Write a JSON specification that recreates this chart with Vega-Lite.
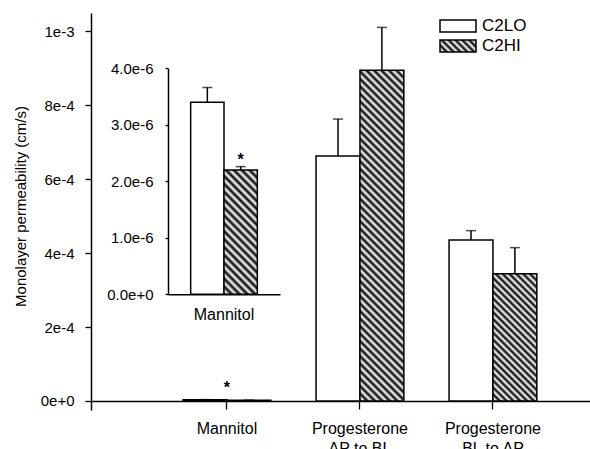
{
  "$schema": "https://vega.github.io/schema/vega-lite/v6.json",
  "width": 499,
  "height": 397,
  "autosize": {"type": "none"},
  "padding": {"left": 91, "top": 13, "right": 0, "bottom": 39},
  "background": "white",
  "config": {
    "view": {"stroke": null},
    "font": "Liberation Sans",
    "axis": {"domainColor": "black", "tickColor": "black", "labelColor": "black", "titleColor": "black", "grid": false, "domainWidth": 1.5, "tickWidth": 1.3, "labelFontWeight": "normal"},
    "legend": {"labelColor": "black"}
  },
  "datasets": {
    "perm": [
      {"group": "Mannitol", "series": "C2LO", "value": 0.0000034, "upper": 0.00000366, "sig": ""},
      {"group": "Mannitol", "series": "C2HI", "value": 0.0000022, "upper": 0.00000226, "sig": "*"},
      {"group": "Progesterone AP to BL", "series": "C2LO", "value": 0.000663, "upper": 0.000763, "sig": ""},
      {"group": "Progesterone AP to BL", "series": "C2HI", "value": 0.000895, "upper": 0.001011, "sig": ""},
      {"group": "Progesterone BL to AP", "series": "C2LO", "value": 0.000436, "upper": 0.000461, "sig": ""},
      {"group": "Progesterone BL to AP", "series": "C2HI", "value": 0.000344, "upper": 0.000415, "sig": ""}
    ]
  },
  "layer": [
    {
      "data": {"name": "perm"},
      "encoding": {
        "x": {
          "field": "group", "type": "nominal",
          "sort": ["Mannitol", "Progesterone AP to BL", "Progesterone BL to AP"],
          "scale": {"paddingInner": 0.34, "paddingOuter": 0.546, "align": 0.634},
          "axis": {"title": null, "orient": "bottom", "offset": -9, "tickSize": 8, "labelPadding": 11, "labelFontSize": 16, "labelAngle": 0, "labelLineHeight": 20,
            "labelExpr": "indexof(datum.label, ' ') > 0 ? [slice(datum.label, 0, indexof(datum.label, ' ')), slice(datum.label, indexof(datum.label, ' ') + 1)] : datum.label"}
        },
        "y": {
          "field": "value", "type": "quantitative", "stack": null,
          "scale": {"domain": [-0.0000244, 0.00105], "nice": false, "zero": false},
          "axis": {"title": "Monolayer permeability (cm/s)", "values": [0, 0.0002, 0.0004, 0.0006, 0.0008, 0.001], "format": ".0e", "tickSize": 6, "labelPadding": 11, "labelFontSize": 15, "titleFontSize": 15, "titleFontWeight": "normal", "titleX": -63, "titleY": 193}
        }
      },
      "layer": [
        {
          "mark": {"type": "bar", "stroke": "black", "strokeWidth": 1.5},
          "encoding": {
            "xOffset": {"field": "series", "sort": ["C2LO", "C2HI"], "scale": {"paddingInner": 0, "paddingOuter": 0}},
            "fill": {
              "condition": [
                {"test": "datum.group == 'Progesterone AP to BL' && datum.series == 'C2HI'", "value": {"gradient": "linear", "x1": 0, "y1": 1, "x2": 0.1478, "y2": -0.1131, "stops": [
                  {"offset": 0, "color": "#000"}, {"offset": 0.01, "color": "#fff"}, {"offset": 0.02, "color": "#000"}, {"offset": 0.03, "color": "#fff"}, {"offset": 0.04, "color": "#000"}, {"offset": 0.05, "color": "#fff"}, {"offset": 0.06, "color": "#000"}, {"offset": 0.07, "color": "#fff"}, {"offset": 0.08, "color": "#000"}, {"offset": 0.09, "color": "#fff"},
                  {"offset": 0.1, "color": "#000"}, {"offset": 0.11, "color": "#fff"}, {"offset": 0.12, "color": "#000"}, {"offset": 0.13, "color": "#fff"}, {"offset": 0.14, "color": "#000"}, {"offset": 0.15, "color": "#fff"}, {"offset": 0.16, "color": "#000"}, {"offset": 0.17, "color": "#fff"}, {"offset": 0.18, "color": "#000"}, {"offset": 0.19, "color": "#fff"},
                  {"offset": 0.2, "color": "#000"}, {"offset": 0.21, "color": "#fff"}, {"offset": 0.22, "color": "#000"}, {"offset": 0.23, "color": "#fff"}, {"offset": 0.24, "color": "#000"}, {"offset": 0.25, "color": "#fff"}, {"offset": 0.26, "color": "#000"}, {"offset": 0.27, "color": "#fff"}, {"offset": 0.28, "color": "#000"}, {"offset": 0.29, "color": "#fff"},
                  {"offset": 0.3, "color": "#000"}, {"offset": 0.31, "color": "#fff"}, {"offset": 0.32, "color": "#000"}, {"offset": 0.33, "color": "#fff"}, {"offset": 0.34, "color": "#000"}, {"offset": 0.35, "color": "#fff"}, {"offset": 0.36, "color": "#000"}, {"offset": 0.37, "color": "#fff"}, {"offset": 0.38, "color": "#000"}, {"offset": 0.39, "color": "#fff"},
                  {"offset": 0.4, "color": "#000"}, {"offset": 0.41, "color": "#fff"}, {"offset": 0.42, "color": "#000"}, {"offset": 0.43, "color": "#fff"}, {"offset": 0.44, "color": "#000"}, {"offset": 0.45, "color": "#fff"}, {"offset": 0.46, "color": "#000"}, {"offset": 0.47, "color": "#fff"}, {"offset": 0.48, "color": "#000"}, {"offset": 0.49, "color": "#fff"},
                  {"offset": 0.5, "color": "#000"}, {"offset": 0.51, "color": "#fff"}, {"offset": 0.52, "color": "#000"}, {"offset": 0.53, "color": "#fff"}, {"offset": 0.54, "color": "#000"}, {"offset": 0.55, "color": "#fff"}, {"offset": 0.56, "color": "#000"}, {"offset": 0.57, "color": "#fff"}, {"offset": 0.58, "color": "#000"}, {"offset": 0.59, "color": "#fff"},
                  {"offset": 0.6, "color": "#000"}, {"offset": 0.61, "color": "#fff"}, {"offset": 0.62, "color": "#000"}, {"offset": 0.63, "color": "#fff"}, {"offset": 0.64, "color": "#000"}, {"offset": 0.65, "color": "#fff"}, {"offset": 0.66, "color": "#000"}, {"offset": 0.67, "color": "#fff"}, {"offset": 0.68, "color": "#000"}, {"offset": 0.69, "color": "#fff"},
                  {"offset": 0.7, "color": "#000"}, {"offset": 0.71, "color": "#fff"}, {"offset": 0.72, "color": "#000"}, {"offset": 0.73, "color": "#fff"}, {"offset": 0.74, "color": "#000"}, {"offset": 0.75, "color": "#fff"}, {"offset": 0.76, "color": "#000"}, {"offset": 0.77, "color": "#fff"}, {"offset": 0.78, "color": "#000"}, {"offset": 0.79, "color": "#fff"},
                  {"offset": 0.8, "color": "#000"}, {"offset": 0.81, "color": "#fff"}, {"offset": 0.82, "color": "#000"}, {"offset": 0.83, "color": "#fff"}, {"offset": 0.84, "color": "#000"}, {"offset": 0.85, "color": "#fff"}, {"offset": 0.86, "color": "#000"}, {"offset": 0.87, "color": "#fff"}, {"offset": 0.88, "color": "#000"}, {"offset": 0.89, "color": "#fff"},
                  {"offset": 0.9, "color": "#000"}, {"offset": 0.91, "color": "#fff"}, {"offset": 0.92, "color": "#000"}, {"offset": 0.93, "color": "#fff"}, {"offset": 0.94, "color": "#000"}, {"offset": 0.95, "color": "#fff"}, {"offset": 0.96, "color": "#000"}, {"offset": 0.97, "color": "#fff"}, {"offset": 0.98, "color": "#000"}, {"offset": 0.99, "color": "#fff"},
                  {"offset": 1, "color": "#000"}
                ]}},
                {"test": "datum.group == 'Progesterone BL to AP' && datum.series == 'C2HI'", "value": {"gradient": "linear", "x1": 0, "y1": 1, "x2": 0.4152, "y2": -0.202, "stops": [
                  {"offset": 0, "color": "#000"}, {"offset": 0.02, "color": "#fff"}, {"offset": 0.04, "color": "#000"}, {"offset": 0.06, "color": "#fff"}, {"offset": 0.08, "color": "#000"},
                  {"offset": 0.1, "color": "#fff"}, {"offset": 0.12, "color": "#000"}, {"offset": 0.14, "color": "#fff"}, {"offset": 0.16, "color": "#000"}, {"offset": 0.18, "color": "#fff"},
                  {"offset": 0.2, "color": "#000"}, {"offset": 0.22, "color": "#fff"}, {"offset": 0.24, "color": "#000"}, {"offset": 0.26, "color": "#fff"}, {"offset": 0.28, "color": "#000"},
                  {"offset": 0.3, "color": "#fff"}, {"offset": 0.32, "color": "#000"}, {"offset": 0.34, "color": "#fff"}, {"offset": 0.36, "color": "#000"}, {"offset": 0.38, "color": "#fff"},
                  {"offset": 0.4, "color": "#000"}, {"offset": 0.42, "color": "#fff"}, {"offset": 0.44, "color": "#000"}, {"offset": 0.46, "color": "#fff"}, {"offset": 0.48, "color": "#000"},
                  {"offset": 0.5, "color": "#fff"}, {"offset": 0.52, "color": "#000"}, {"offset": 0.54, "color": "#fff"}, {"offset": 0.56, "color": "#000"}, {"offset": 0.58, "color": "#fff"},
                  {"offset": 0.6, "color": "#000"}, {"offset": 0.62, "color": "#fff"}, {"offset": 0.64, "color": "#000"}, {"offset": 0.66, "color": "#fff"}, {"offset": 0.68, "color": "#000"},
                  {"offset": 0.7, "color": "#fff"}, {"offset": 0.72, "color": "#000"}, {"offset": 0.74, "color": "#fff"}, {"offset": 0.76, "color": "#000"}, {"offset": 0.78, "color": "#fff"},
                  {"offset": 0.8, "color": "#000"}, {"offset": 0.82, "color": "#fff"}, {"offset": 0.84, "color": "#000"}, {"offset": 0.86, "color": "#fff"}, {"offset": 0.88, "color": "#000"},
                  {"offset": 0.9, "color": "#fff"}, {"offset": 0.92, "color": "#000"}, {"offset": 0.94, "color": "#fff"}, {"offset": 0.96, "color": "#000"}, {"offset": 0.98, "color": "#fff"},
                  {"offset": 1, "color": "#000"}
                ]}}
              ],
              "field": "series", "type": "nominal",
              "scale": {"domain": ["C2LO", "C2HI"], "range": ["#ffffff", {"expr": "{gradient: 'linear', x1: 0, y1: 1, x2: 1.2, y2: 0.6, stops: [{offset: 0, color: '#000'}, {offset: 0.0714, color: '#fff'}, {offset: 0.1429, color: '#000'}, {offset: 0.2143, color: '#fff'}, {offset: 0.2857, color: '#000'}, {offset: 0.3571, color: '#fff'}, {offset: 0.4286, color: '#000'}, {offset: 0.5, color: '#fff'}, {offset: 0.5714, color: '#000'}, {offset: 0.6429, color: '#fff'}, {offset: 0.7143, color: '#000'}, {offset: 0.7857, color: '#fff'}, {offset: 0.8571, color: '#000'}, {offset: 0.9286, color: '#fff'}, {offset: 1, color: '#000'}]}"}]},
              "legend": {"title": null, "orient": "none", "legendX": 357, "legendY": 3, "rowPadding": -2, "symbolType": "M-2,-0.667H2V0.667H-2Z", "symbolSize": 324, "symbolStrokeColor": "black", "symbolStrokeWidth": 1.5, "labelFontSize": 17, "labelOffset": 14, "labelColor": "black",
                "encode": {"symbols": {"update": {
                  "stroke": {"value": "black"},
                  "strokeWidth": {"value": 1.5}
                }}}
              }
            }
          }
        },
        {
          "mark": {"type": "rule", "color": "black", "strokeWidth": 1.5},
          "encoding": {
            "xOffset": {"field": "series", "sort": ["C2LO", "C2HI"], "scale": {"paddingInner": 0, "paddingOuter": 0}},
            "y2": {"field": "upper"}
          }
        },
        {
          "mark": {"type": "tick", "color": "black", "size": 10, "thickness": 1.5},
          "encoding": {
            "xOffset": {"field": "series", "sort": ["C2LO", "C2HI"], "scale": {"paddingInner": 0, "paddingOuter": 0}},
            "y": {"field": "upper", "type": "quantitative"}
          }
        },
        {
          "transform": [{"filter": "datum.sig == '*'"}],
          "mark": {"type": "text", "text": "*", "fontSize": 16, "fontWeight": "bold", "color": "black", "baseline": "alphabetic", "dy": -8},
          "encoding": {"y": {"datum": 0, "type": "quantitative"}}
        }
      ]
    },
    {
      "data": {"name": "perm"},
      "transform": [{"filter": "datum.group == 'Mannitol'"}],
      "encoding": {
        "x": {
          "field": "group", "type": "nominal",
          "scale": {"range": [77, 189], "paddingInner": 0, "paddingOuter": 0.34},
          "axis": {"title": null, "orient": "bottom", "offset": -115.7, "ticks": false, "labelPadding": 12, "labelFontSize": 16, "labelAngle": 0}
        },
        "y": {
          "field": "value", "type": "quantitative", "stack": null,
          "scale": {"domain": [0, 0.000004], "range": [281.3, 55.3], "nice": false, "zero": false},
          "axis": {"title": null, "orient": "left", "offset": -77, "values": [0, 0.000001, 0.000002, 0.000003, 0.000004], "format": ".1e", "tickSize": 3, "labelPadding": 12, "labelFontSize": 15}
        }
      },
      "layer": [
        {
          "mark": {"type": "bar", "stroke": "black", "strokeWidth": 1.5},
          "encoding": {
            "xOffset": {"field": "series", "sort": ["C2LO", "C2HI"], "scale": {"paddingInner": 0, "paddingOuter": 0}},
            "fill": {
              "condition": {"test": "datum.series == 'C2HI'", "value": {"gradient": "linear", "x1": 0, "y1": 1, "x2": 0.3203, "y2": -0.1839, "stops": [
                {"offset": 0, "color": "#000"}, {"offset": 0.025, "color": "#fff"}, {"offset": 0.05, "color": "#000"}, {"offset": 0.075, "color": "#fff"}, {"offset": 0.1, "color": "#000"}, {"offset": 0.125, "color": "#fff"}, {"offset": 0.15, "color": "#000"}, {"offset": 0.175, "color": "#fff"},
                {"offset": 0.2, "color": "#000"}, {"offset": 0.225, "color": "#fff"}, {"offset": 0.25, "color": "#000"}, {"offset": 0.275, "color": "#fff"}, {"offset": 0.3, "color": "#000"}, {"offset": 0.325, "color": "#fff"}, {"offset": 0.35, "color": "#000"}, {"offset": 0.375, "color": "#fff"},
                {"offset": 0.4, "color": "#000"}, {"offset": 0.425, "color": "#fff"}, {"offset": 0.45, "color": "#000"}, {"offset": 0.475, "color": "#fff"}, {"offset": 0.5, "color": "#000"}, {"offset": 0.525, "color": "#fff"}, {"offset": 0.55, "color": "#000"}, {"offset": 0.575, "color": "#fff"},
                {"offset": 0.6, "color": "#000"}, {"offset": 0.625, "color": "#fff"}, {"offset": 0.65, "color": "#000"}, {"offset": 0.675, "color": "#fff"}, {"offset": 0.7, "color": "#000"}, {"offset": 0.725, "color": "#fff"}, {"offset": 0.75, "color": "#000"}, {"offset": 0.775, "color": "#fff"},
                {"offset": 0.8, "color": "#000"}, {"offset": 0.825, "color": "#fff"}, {"offset": 0.85, "color": "#000"}, {"offset": 0.875, "color": "#fff"}, {"offset": 0.9, "color": "#000"}, {"offset": 0.925, "color": "#fff"}, {"offset": 0.95, "color": "#000"}, {"offset": 0.975, "color": "#fff"},
                {"offset": 1, "color": "#000"}
              ]}},
              "value": "#ffffff"
            }
          }
        },
        {
          "mark": {"type": "rule", "color": "black", "strokeWidth": 1.5},
          "encoding": {
            "xOffset": {"field": "series", "sort": ["C2LO", "C2HI"], "scale": {"paddingInner": 0, "paddingOuter": 0}},
            "y2": {"field": "upper"}
          }
        },
        {
          "mark": {"type": "tick", "color": "black", "size": 10, "thickness": 1.5},
          "encoding": {
            "xOffset": {"field": "series", "sort": ["C2LO", "C2HI"], "scale": {"paddingInner": 0, "paddingOuter": 0}},
            "y": {"field": "upper", "type": "quantitative"}
          }
        },
        {
          "transform": [{"filter": "datum.sig == '*'"}],
          "mark": {"type": "text", "text": "*", "fontSize": 16, "fontWeight": "bold", "color": "black", "baseline": "alphabetic", "dy": -2},
          "encoding": {
            "xOffset": {"field": "series", "sort": ["C2LO", "C2HI"], "scale": {"paddingInner": 0, "paddingOuter": 0}},
            "y": {"field": "upper", "type": "quantitative"}
          }
        }
      ]
    }
  ],
  "resolve": {"scale": {"x": "independent", "y": "independent", "xOffset": "independent"}}
}
